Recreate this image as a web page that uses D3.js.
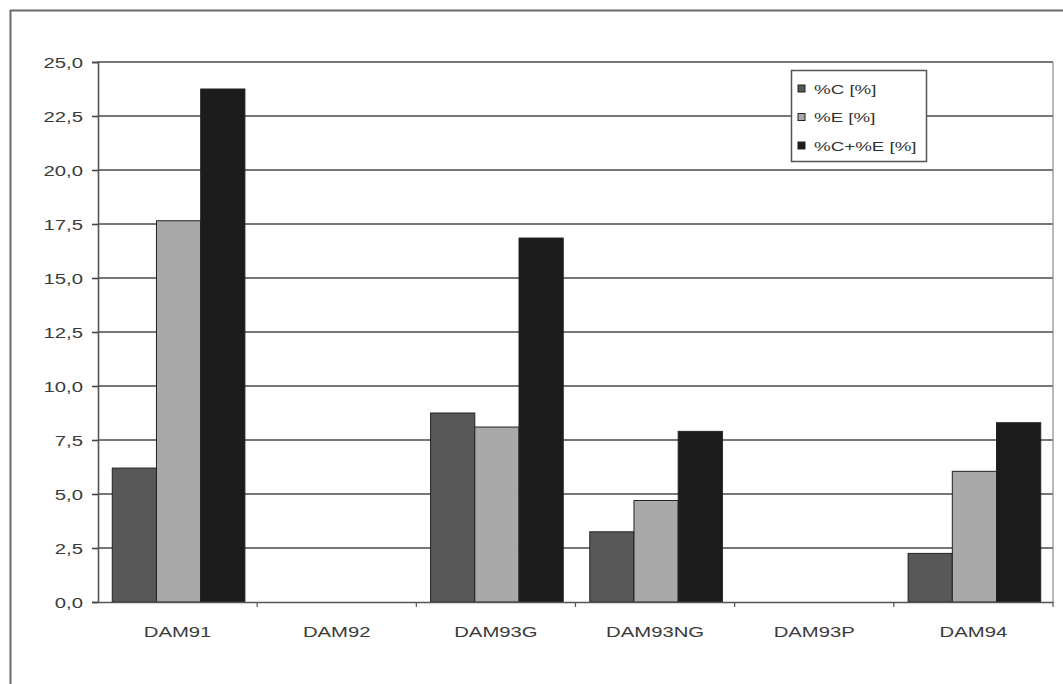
<!DOCTYPE html>
<html>
<head>
<meta charset="utf-8">
<script src="https://cdn.jsdelivr.net/npm/d3@7"></script>
<style>
  html, body { margin: 0; padding: 0; background: #fff; }
  svg { display: block; }
  text { font-family: "Liberation Sans", Arial, sans-serif; }
</style>
</head>
<body>
<svg id="chart" width="1063" height="684"></svg>
<script>
// Samples and measured quantities
const categories = ["DAM91", "DAM92", "DAM93G", "DAM93NG", "DAM93P", "DAM94"];
const seriesNames = ["%C [%]", "%E [%]", "%C+%E [%]"];
const valuesC  = [6.2, 0, 8.75, 3.25, 0, 2.25];
const valuesE  = [17.65, 0, 8.1, 4.7, 0, 6.05];
const valuesCE = [23.75, 0, 16.85, 7.9, 0, 8.3];
const yTicks = [0, 2.5, 5, 7.5, 10, 12.5, 15, 17.5, 20, 22.5, 25];
const seriesColors = ["#585858", "#a9a9a9", "#1c1c1c"];

const seriesValues = [valuesC, valuesE, valuesCE];
const rows = categories.map((c, i) => ({
  cat: c,
  vals: seriesNames.map((s, k) => ({ series: s, k, value: seriesValues[k][i] }))
}));

const svg = d3.select("#chart");
const plot = { left: 98, right: 1053, top: 62, bottom: 602 };
const stretch = 1.45;   // horizontally widened lettering

// Outer chart frame (extends past the visible area on the right/bottom)
svg.append("rect")
  .attr("x", 10.5).attr("y", 10.5)
  .attr("width", 1100).attr("height", 800)
  .attr("fill", "none").attr("stroke", "#6a6a6a").attr("stroke-width", 2);

const y = d3.scaleLinear().domain([0, 25]).range([plot.bottom, plot.top]);
const x0 = d3.scaleBand().domain(categories).range([plot.left, plot.right]).padding(0);
const x1 = d3.scaleBand().domain(seriesNames).range([0, x0.bandwidth()])
  .paddingInner(0).paddingOuter(0.3);

// Horizontal gridlines
svg.append("g").selectAll("line").data(yTicks.filter(t => t > 0)).join("line")
  .attr("x1", plot.left).attr("x2", plot.right)
  .attr("y1", d => y(d)).attr("y2", d => y(d))
  .attr("stroke", "#4a4a4a").attr("stroke-width", 1.6);

// Right edge of the plot area
svg.append("line")
  .attr("x1", plot.right).attr("x2", plot.right)
  .attr("y1", plot.top).attr("y2", plot.bottom)
  .attr("stroke", "#8a8a8a").attr("stroke-width", 1.2);

// Bars
svg.append("g").selectAll("g").data(rows).join("g")
  .attr("transform", d => `translate(${x0(d.cat)},0)`)
  .selectAll("rect").data(d => d.vals.filter(v => v.value > 0)).join("rect")
  .attr("x", d => x1(d.series) + 1)
  .attr("width", x1.bandwidth())
  .attr("y", d => y(d.value))
  .attr("height", d => y(0) - y(d.value))
  .attr("fill", d => seriesColors[d.k])
  .attr("stroke", "#222").attr("stroke-width", 1);

// Y axis
const yAxis = d3.axisLeft(y).tickValues(yTicks).tickSize(6)
  .tickFormat(d => d3.format(".1f")(d).replace(".", ","));
const gy = svg.append("g").attr("transform", `translate(${plot.left},0)`).call(yAxis);
gy.select(".domain").attr("stroke", "#555").attr("stroke-width", 1.6);
gy.selectAll(".tick line").attr("stroke", "#444").attr("stroke-width", 1.6);
gy.selectAll(".tick text")
  .attr("x", 0).attr("dy", "0.36em")
  .attr("transform", `translate(-15,0) scale(${stretch},1)`)
  .attr("font-size", 14).attr("fill", "#3a3a3a")
  .attr("font-family", "'Liberation Sans', Arial, sans-serif");

// X axis
const xAxis = d3.axisBottom(x0).tickSize(0);
const gx = svg.append("g").attr("transform", `translate(0,${plot.bottom})`).call(xAxis);
gx.select(".domain").attr("stroke", "#555").attr("stroke-width", 1.6);
gx.selectAll(".tick text")
  .attr("y", 0).attr("dy", 0)
  .attr("transform", `translate(0,35) scale(${stretch},1)`)
  .attr("font-size", 14).attr("fill", "#3a3a3a")
  .attr("font-family", "'Liberation Sans', Arial, sans-serif");
// category separators
gx.append("g").selectAll("line").data(categories).join("line")
  .attr("x1", d => x0(d) + x0.bandwidth()).attr("x2", d => x0(d) + x0.bandwidth())
  .attr("y1", 0).attr("y2", 5)
  .attr("stroke", "#555").attr("stroke-width", 1.2);

// Legend
const lg = svg.append("g").attr("transform", "translate(791,70)");
lg.append("rect").attr("x", 0.5).attr("y", 0.5).attr("width", 135).attr("height", 91)
  .attr("fill", "#fff").attr("stroke", "#555").attr("stroke-width", 1.5);
const items = lg.selectAll("g.item").data(seriesNames).join("g")
  .attr("class", "item")
  .attr("transform", (d, i) => `translate(7,${19 + i * 28.5})`);
items.append("rect").attr("x", 0).attr("y", -4).attr("width", 7).attr("height", 7)
  .attr("fill", (d, i) => seriesColors[i]).attr("stroke", "#222").attr("stroke-width", 1);
items.append("text")
  .attr("transform", `translate(16,4.5) scale(1.5,1)`)
  .attr("font-size", 12.5).attr("fill", "#333").text(d => d);
</script>
</body>
</html>
